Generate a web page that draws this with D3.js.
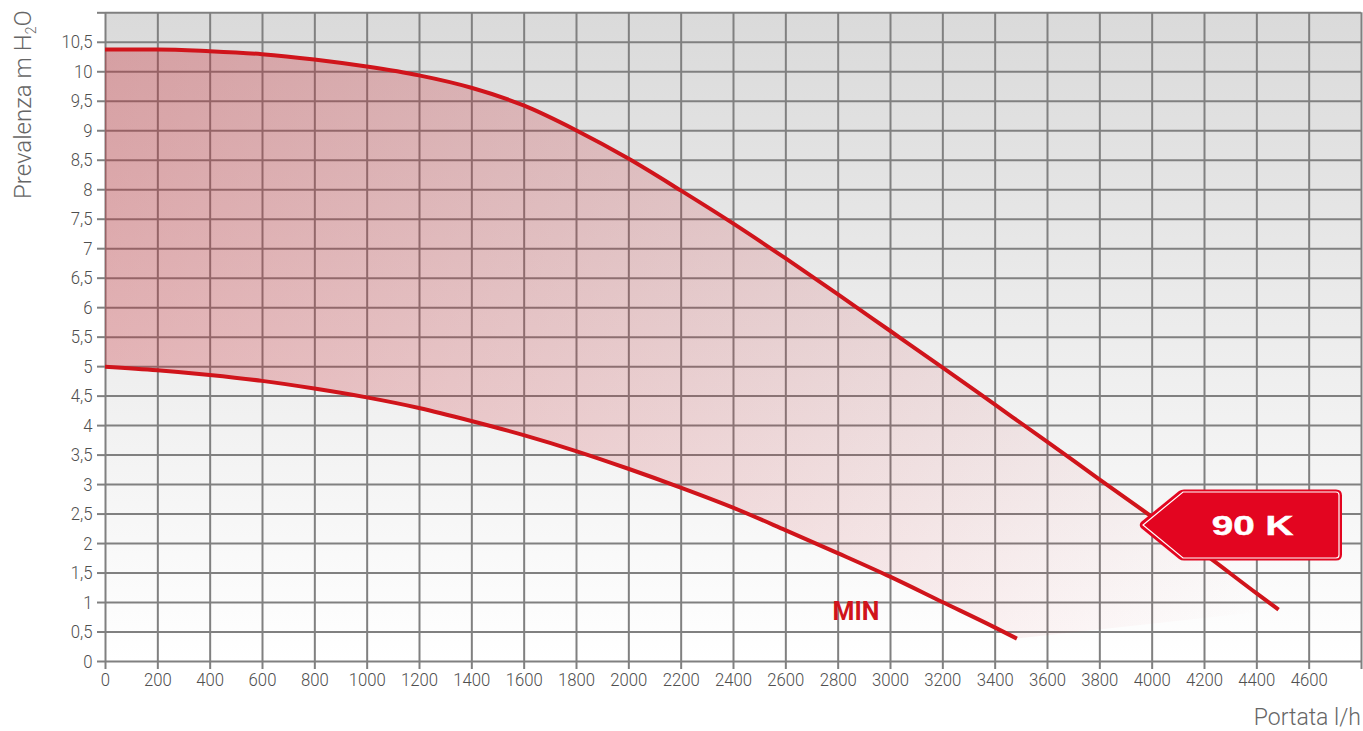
<!DOCTYPE html>
<html><head><meta charset="utf-8">
<script src="https://cdnjs.cloudflare.com/ajax/libs/d3/7.8.5/d3.min.js"></script>
<style>html,body{margin:0;padding:0;background:#fff}svg{display:block}</style></head><body>
<svg id="c" width="1363" height="731"></svg>
<script>
const flowTicks=[0,200,400,600,800,1000,1200,1400,1600,1800,2000,2200,2400,2600,2800,3000,3200,3400,3600,3800,4000,4200,4400,4600,4800];
const headTicks=[0,0.5,1,1.5,2,2.5,3,3.5,4,4.5,5,5.5,6,6.5,7,7.5,8,8.5,9,9.5,10,10.5,11];
const maxFlow=[0,200,400,600,800,1000,1200,1400,1600,1800,2000,2200,2400,2600,2800,3000,3200,3400,3600,3800,4000,4200,4400,4485];
const maxHead=[10.37,10.37,10.34,10.29,10.2,10.08,9.93,9.72,9.42,9.0,8.52,7.98,7.42,6.83,6.22,5.6,4.98,4.35,3.72,3.08,2.45,1.82,1.15,0.87];
const minFlow=[0,200,400,600,800,1000,1200,1400,1600,1800,2000,2200,2400,2600,2800,3000,3200,3400,3485];
const minHead=[4.99,4.93,4.85,4.75,4.62,4.47,4.29,4.07,3.83,3.56,3.26,2.94,2.6,2.22,1.83,1.43,1,0.57,0.38];
const tagLabel="90 K", minLabel="MIN", yTitle="Prevalenza m H", xTitle="Portata l/h";

const svg=d3.select("#c");
const x=d3.scaleLinear().domain([0,4800]).range([105,1361]);
const y=d3.scaleLinear().domain([0,11]).range([661,12.3]);
const fmt=v=>String(v).replace(".",",");
const defs=svg.append("defs");
const bg=defs.append("linearGradient").attr("id","bg").attr("x1",0).attr("y1",0).attr("x2",0).attr("y2",1);
bg.append("stop").attr("offset",0).attr("stop-color","#dadada");
bg.append("stop").attr("offset",1).attr("stop-color","#ffffff");
const fg=defs.append("linearGradient").attr("id","fg").attr("gradientUnits","userSpaceOnUse")
 .attr("x1",105).attr("y1",50).attr("x2",1250).attr("y2",640);
fg.append("stop").attr("offset",0).attr("stop-color","#c81e28").attr("stop-opacity",0.32);
fg.append("stop").attr("offset",1).attr("stop-color","#c81e28").attr("stop-opacity",0);

svg.append("rect").attr("x",x(0)).attr("y",y(11)).attr("width",x(4800)-x(0)).attr("height",y(0)-y(11)).attr("fill","url(#bg)");

const gy=svg.append("g").attr("transform",`translate(${x(0)},0)`)
 .call(d3.axisLeft(y).tickValues(headTicks).tickSize(8).tickFormat(d=>d===11?"":fmt(d)));
gy.selectAll(".tick").append("line").attr("x1",0).attr("x2",x(4800)-x(0));
const gx=svg.append("g").attr("transform",`translate(0,${y(0)})`)
 .call(d3.axisBottom(x).tickValues(flowTicks).tickSize(8).tickFormat(d=>d===4800?"":String(d)));
gx.selectAll(".tick").append("line").attr("y1",0).attr("y2",y(11)-y(0));
const squeeze=0.88;
[gy,gx].forEach(g=>{
 g.select(".domain").remove();
 g.selectAll(".tick line").attr("stroke","#808080").attr("stroke-width",2);
 g.selectAll(".tick text").attr("font-family","Roboto").attr("font-weight",300).attr("font-size",19).attr("fill","#4f4f4f")
  .attr("transform",`scale(${squeeze},1)`);
});
gy.selectAll(".tick text").attr("x",-12.5/squeeze);
gx.selectAll(".tick text").attr("y",12).attr("x",0);

const upper=maxFlow.map((f,i)=>[f,maxHead[i]]), lower=minFlow.map((f,i)=>[f,minHead[i]]);
const line=d3.line().x(d=>x(d[0])).y(d=>y(d[1])).curve(d3.curveMonotoneX);
// band: along the top curve, then back along the lower one
const band=line(upper)+"L"+line(lower.slice().reverse()).slice(1)+"Z";
svg.append("path").attr("d",band).attr("fill","url(#fg)");
[upper,lower].forEach(s=>svg.append("path").attr("d",line(s)).attr("fill","none").attr("stroke","#d0141b").attr("stroke-width",4));

const t=svg.append("g");
const tag=d3.path();
tag.moveTo(1184,489.5);tag.lineTo(1336,489.5);tag.quadraticCurveTo(1342,489.5,1342,495.5);
tag.lineTo(1342,554.5);tag.quadraticCurveTo(1342,560.5,1336,560.5);tag.lineTo(1184,560.5);tag.quadraticCurveTo(1181,560.5,1179,559);
tag.lineTo(1141,528);tag.quadraticCurveTo(1138.5,525,1141,522);tag.lineTo(1179,491);tag.quadraticCurveTo(1181,489.5,1184,489.5);tag.closePath();
t.append("path").attr("d",tag.toString()).attr("fill","#e30520");
const tag2=d3.path();
tag2.moveTo(1183,492);tag2.lineTo(1336,492);tag2.quadraticCurveTo(1339,492,1339,495);
tag2.lineTo(1339,555);tag2.quadraticCurveTo(1339,558,1336,558);tag2.lineTo(1183,558);
tag2.lineTo(1143,525);tag2.closePath();
t.append("path").attr("d",tag2.toString()).attr("fill","none").attr("stroke","#fff").attr("stroke-width",1.2);
t.append("text").text(tagLabel).attr("transform","translate(1252.5,535) scale(1.38,1)").attr("text-anchor","middle")
 .attr("font-family","Liberation Sans").attr("font-weight",700).attr("font-size",28).attr("fill","#fff")
 .attr("stroke","#fff").attr("stroke-width",0.5);

svg.append("text").text(minLabel).attr("x",856).attr("y",620).attr("text-anchor","middle")
 .attr("font-family","Roboto").attr("font-weight",700).attr("font-size",25).attr("fill","#d0141b");

const yt=svg.append("text").attr("transform","translate(31,199) rotate(-90)")
 .attr("font-family","Roboto").attr("font-weight",300).attr("font-size",24).attr("fill","#666");
yt.append("tspan").text(yTitle);
yt.append("tspan").text("2").attr("font-size",14).attr("dy",5);
yt.append("tspan").text("O").attr("dy",-5);
svg.append("text").text(xTitle).attr("x",1361).attr("y",725).attr("text-anchor","end")
 .attr("font-family","Roboto").attr("font-weight",300).attr("font-size",23).attr("fill","#666");
</script></body></html>
